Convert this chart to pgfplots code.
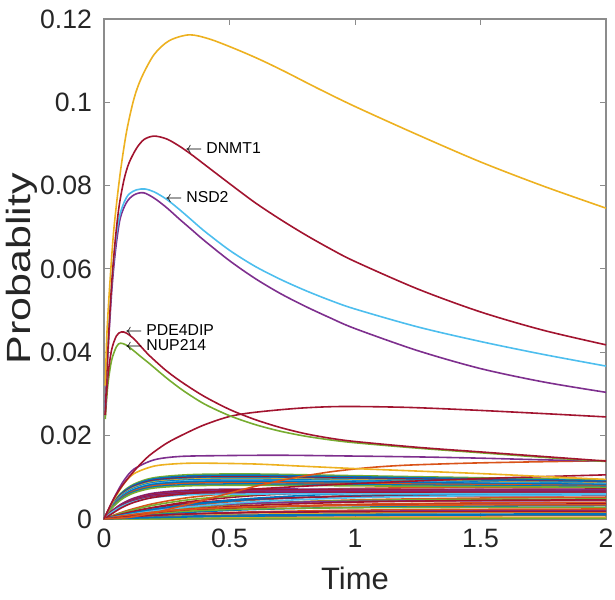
\documentclass[border=0pt]{standalone}
\usepackage{fontspec}
\setmainfont{Liberation Sans}
\usepackage{pgfplots}
\pgfplotsset{compat=1.18}
\usepackage{pgfplotstable}

\definecolor{mblue}{RGB}{0,114,189}
\definecolor{morange}{RGB}{217,83,25}
\definecolor{myellow}{RGB}{237,177,32}
\definecolor{mpurple}{RGB}{126,47,142}
\definecolor{mgreen}{RGB}{119,172,48}
\definecolor{mcyan}{RGB}{77,190,238}
\definecolor{mred}{RGB}{162,20,47}
\definecolor{axgray}{RGB}{140,140,140}
\definecolor{txt}{RGB}{38,38,38}

% fast-rising curves that level off
\pgfplotstableread{
t    F1      F2      F3      F4      F5      F6      F7      F8      F9      F10     F11     F12     F13     F14     F15     F16     F17     F18     F19     F20
0    0       0       0       0       0       0       0       0       0       0       0       0       0       0       0       0       0       0       0       0
0.03 0.00338 0.00329 0.00322 0.00316 0.00310 0.00304 0.00297 0.00291 0.00285 0.00279 0.00272 0.00263 0.00254 0.00186 0.00181 0.00176 0.00171 0.00166 0.00161 0.00155
0.07 0.00630 0.00612 0.00600 0.00589 0.00577 0.00566 0.00554 0.00542 0.00531 0.00519 0.00507 0.00490 0.00472 0.00362 0.00352 0.00342 0.00332 0.00322 0.00312 0.00302
0.12 0.00839 0.00816 0.00800 0.00785 0.00769 0.00754 0.00738 0.00723 0.00707 0.00692 0.00676 0.00653 0.00629 0.00503 0.00489 0.00475 0.00461 0.00447 0.00433 0.00419
0.2  0.00991 0.00964 0.00946 0.00927 0.00909 0.00890 0.00872 0.00854 0.00835 0.00817 0.00799 0.00771 0.00744 0.00623 0.00606 0.00588 0.00571 0.00554 0.00536 0.00519
0.35 0.01066 0.01036 0.01017 0.00997 0.00977 0.00957 0.00938 0.00918 0.00898 0.00878 0.00859 0.00829 0.00799 0.00698 0.00679 0.00660 0.00640 0.00621 0.00601 0.00582
0.6  0.01080 0.01050 0.01030 0.01010 0.00990 0.00970 0.00950 0.00930 0.00910 0.00890 0.00870 0.00840 0.00810 0.00720 0.00700 0.00680 0.00660 0.00640 0.00620 0.00600
1.0  0.01040 0.01013 0.00993 0.00976 0.00959 0.00939 0.00921 0.00904 0.00887 0.00870 0.00850 0.00823 0.00796 0.00714 0.00694 0.00677 0.00660 0.00640 0.00623 0.00603
1.5  0.00990 0.00966 0.00946 0.00933 0.00919 0.00899 0.00886 0.00872 0.00859 0.00845 0.00825 0.00801 0.00778 0.00707 0.00687 0.00674 0.00660 0.00640 0.00626 0.00606
2.0  0.00940 0.00920 0.00900 0.00890 0.00880 0.00860 0.00850 0.00840 0.00830 0.00820 0.00800 0.00780 0.00760 0.00700 0.00680 0.00670 0.00660 0.00640 0.00630 0.00610
}\fasttab

% slowly rising curves
\pgfplotstableread{
t    S1      S2      S3      S4      S5      S6      S7      S8      S9      S10     S11     S12     S13     S14     S15     S16     S17     S18     S19     S20     S21     S22     S23     S24     S25     S26
0    0       0       0       0       0       0       0       0       0       0       0       0       0       0       0       0       0       0       0       0       0       0       0       0       0       0
0.03 0.00072 0.00053 0.00065 0.00038 0.00044 0.00053 0.00031 0.00035 0.00042 0.00024 0.00026 0.00019 0.00027 0.00014 0.00015 0.00009 0.00009 0.00008 0.00002 0.00001 0.00041 0.00034 0.00027 0.00032 0.00017 0.00006
0.07 0.00160 0.00116 0.00143 0.00085 0.00097 0.00118 0.00069 0.00077 0.00092 0.00053 0.00058 0.00043 0.00059 0.00032 0.00032 0.00021 0.00019 0.00017 0.00005 0.00002 0.00093 0.00077 0.00061 0.00071 0.00038 0.00013
0.12 0.00251 0.00189 0.00224 0.00139 0.00157 0.00185 0.00113 0.00126 0.00145 0.00087 0.00094 0.00069 0.00092 0.00052 0.00052 0.00035 0.00031 0.00026 0.00009 0.00003 0.00152 0.00126 0.00100 0.00112 0.00059 0.00022
0.2  0.00372 0.00283 0.00333 0.00215 0.00236 0.00274 0.00175 0.00189 0.00216 0.00134 0.00141 0.00108 0.00137 0.00081 0.00079 0.00054 0.00047 0.00039 0.00013 0.00005 0.00235 0.00195 0.00155 0.00167 0.00088 0.00034
0.35 0.00524 0.00423 0.00469 0.00328 0.00352 0.00386 0.00266 0.00282 0.00304 0.00205 0.00211 0.00164 0.00193 0.00123 0.00117 0.00082 0.00070 0.00055 0.00020 0.00008 0.00358 0.00297 0.00236 0.00235 0.00124 0.00051
0.6  0.00657 0.00562 0.00588 0.00456 0.00469 0.00484 0.00370 0.00375 0.00381 0.00285 0.00281 0.00228 0.00242 0.00171 0.00156 0.00114 0.00094 0.00069 0.00028 0.00011 0.00498 0.00413 0.00328 0.00294 0.00156 0.00071
1.0  0.00733 0.00665 0.00656 0.00564 0.00554 0.00540 0.00458 0.00443 0.00424 0.00352 0.00332 0.00282 0.00270 0.00211 0.00185 0.00141 0.00111 0.00077 0.00035 0.00013 0.00617 0.00511 0.00405 0.00328 0.00174 0.00088
1.5  0.00755 0.00708 0.00675 0.00619 0.00590 0.00556 0.00503 0.00472 0.00437 0.00387 0.00354 0.00309 0.00278 0.00232 0.00197 0.00155 0.00118 0.00079 0.00039 0.00015 0.00677 0.00561 0.00445 0.00338 0.00179 0.00097
2.0  0.00760 0.00720 0.00680 0.00640 0.00600 0.00560 0.00520 0.00480 0.00440 0.00400 0.00360 0.00320 0.00280 0.00240 0.00200 0.00160 0.00120 0.00080 0.00040 0.00015 0.00700 0.00580 0.00460 0.00340 0.00180 0.00100
}\slowtab

\begin{document}
\begin{tikzpicture}
\useasboundingbox (-52pt,-40pt) rectangle (255.5pt,259.5pt);
\begin{axis}[
  at={(0,0)}, anchor=south west,
  scale only axis, width=251pt, height=250pt,
  xmin=0, xmax=2, ymin=0, ymax=0.12,
  xtick={0,0.5,1,1.5,2}, xticklabels={0,0.5,1,1.5,2},
  ytick={0,0.02,0.04,0.06,0.08,0.1,0.12},
  yticklabels={0,0.02,0.04,0.06,0.08,0.1,0.12},
  /pgf/number format/assume math mode=true,
  tick align=inside, major tick length=3pt,
  axis line style={draw=axgray, line width=0.6pt},
  tick style={draw=axgray, line width=0.5pt},
  every tick label/.append style={font=\fontsize{13.3}{16}\selectfont, text=txt},
  yticklabel style={xshift=-2.5pt},
  xticklabel style={yshift=-1.5pt},
  xlabel={Time}, ylabel={Probablity},
  every axis x label/.style={at={(axis description cs:0.5,-0.118)}, anchor=center, font=\fontsize{15.5}{18}\selectfont, text=txt},
  every axis y label/.style={at={(axis description cs:-0.163,0.5)}, rotate=90, yscale=0.78, anchor=center, font=\fontsize{21.5}{24}\selectfont, text=txt},
  no markers,
  every axis plot/.append style={line width=0.8pt, smooth},
  clip=true,
]
% slow curves
\addplot[morange] table[y=S1]{\slowtab};
\addplot[mred] table[y=S2]{\slowtab};
\addplot[mgreen] table[y=S3]{\slowtab};
\addplot[morange] table[y=S4]{\slowtab};
\addplot[mblue] table[y=S5]{\slowtab};
\addplot[mred] table[y=S6]{\slowtab};
\addplot[morange] table[y=S7]{\slowtab};
\addplot[mgreen] table[y=S8]{\slowtab};
\addplot[mpurple] table[y=S9]{\slowtab};
\addplot[morange] table[y=S10]{\slowtab};
\addplot[mred] table[y=S11]{\slowtab};
\addplot[mblue] table[y=S12]{\slowtab};
\addplot[mgreen] table[y=S13]{\slowtab};
\addplot[morange] table[y=S14]{\slowtab};
\addplot[mpurple] table[y=S15]{\slowtab};
\addplot[myellow] table[y=S16]{\slowtab};
\addplot[mblue] table[y=S17]{\slowtab};
\addplot[morange] table[y=S18]{\slowtab};
\addplot[myellow] table[y=S19]{\slowtab};
\addplot[mgreen] table[y=S20]{\slowtab};
\addplot[mblue] table[y=S21]{\slowtab};
\addplot[mcyan] table[y=S22]{\slowtab};
\addplot[mred] table[y=S23]{\slowtab};
\addplot[morange] table[y=S24]{\slowtab};
\addplot[mred] table[y=S25]{\slowtab};
\addplot[mblue] table[y=S26]{\slowtab};
% fast curves
\addplot[mgreen] table[y=F1]{\fasttab};
\addplot[mblue] table[y=F2]{\fasttab};
\addplot[mblue] table[y=F3]{\fasttab};
\addplot[mred] table[y=F4]{\fasttab};
\addplot[mblue] table[y=F5]{\fasttab};
\addplot[myellow] table[y=F6]{\fasttab};
\addplot[mblue] table[y=F7]{\fasttab};
\addplot[mcyan] table[y=F8]{\fasttab};
\addplot[mblue] table[y=F9]{\fasttab};
\addplot[mblue] table[y=F10]{\fasttab};
\addplot[morange] table[y=F11]{\fasttab};
\addplot[mblue] table[y=F12]{\fasttab};
\addplot[mgreen] table[y=F13]{\fasttab};
\addplot[mpurple] table[y=F14]{\fasttab};
\addplot[mred] table[y=F15]{\fasttab};
\addplot[mpurple] table[y=F16]{\fasttab};
\addplot[mred] table[y=F17]{\fasttab};
\addplot[mpurple] table[y=F18]{\fasttab};
\addplot[mred] table[y=F19]{\fasttab};
\addplot[mcyan] table[y=F20]{\fasttab};
% individual mid-level curves
\addplot[mred] coordinates {(0,0) (0.03,0.0012) (0.07,0.0027) (0.12,0.0040) (0.2,0.0052) (0.35,0.0062) (0.6,0.0072) (1.0,0.0085) (1.5,0.0097) (2.0,0.0106)};
\addplot[morange] coordinates {(0,0) (0.1,0.0004) (0.2,0.0015) (0.3,0.0030) (0.4,0.0046) (0.5,0.0062) (0.6,0.0078) (0.75,0.0098) (0.9,0.0113) (1.05,0.0123) (1.2,0.0129) (1.45,0.0134) (1.7,0.0137) (2.0,0.0140)};
\addplot[myellow] coordinates {(0,0) (0.025,0.0030) (0.05,0.0057) (0.08,0.0085) (0.12,0.0109) (0.2,0.0127) (0.3,0.0133) (0.4,0.0134) (0.6,0.0132) (0.78,0.0127) (1.0,0.0121) (1.25,0.0115) (1.5,0.0109) (1.75,0.0102) (2.0,0.0095)};
\addplot[mpurple] coordinates {(0,0) (0.025,0.0032) (0.05,0.0062) (0.08,0.0093) (0.12,0.0120) (0.2,0.0142) (0.3,0.0150) (0.45,0.0152) (0.7,0.0153) (1.0,0.0151) (1.25,0.0149) (1.5,0.0146) (1.75,0.0142) (2.0,0.0139)};
\addplot[mred] coordinates {(0,0) (0.04,0.0050) (0.08,0.0086) (0.13,0.0122) (0.18,0.0152) (0.25,0.0182) (0.32,0.0204) (0.4,0.0226) (0.5,0.0246) (0.6,0.0256) (0.78,0.0266) (0.95,0.0270) (1.2,0.0268) (1.45,0.0262) (1.75,0.0253) (2.0,0.0245)};
% NUP214
\addplot[mgreen] coordinates {(0.005,0.024) (0.015,0.032) (0.03,0.0380) (0.05,0.0414) (0.066,0.0422) (0.09,0.0417) (0.12,0.0403) (0.15,0.0388) (0.183,0.0372) (0.25,0.0338) (0.316,0.0308) (0.4,0.0276) (0.5,0.0248) (0.6,0.0227) (0.7,0.0211) (0.8,0.0199) (0.9,0.0190) (1.0,0.0183) (1.25,0.0170) (1.5,0.0159) (1.75,0.0148) (2.0,0.0138)};
% PDE4DIP
\addplot[mred] coordinates {(0.005,0.025) (0.015,0.034) (0.03,0.0405) (0.05,0.0440) (0.07,0.0449) (0.09,0.0446) (0.12,0.0432) (0.15,0.0412) (0.183,0.0391) (0.25,0.0355) (0.316,0.0326) (0.4,0.0294) (0.5,0.0263) (0.6,0.0239) (0.7,0.0220) (0.8,0.0205) (0.9,0.0194) (1.0,0.0186) (1.25,0.0172) (1.5,0.0161) (1.75,0.0150) (2.0,0.0139)};
% purple
\addplot[mpurple] coordinates {(0.005,0.027) (0.015,0.039) (0.03,0.054) (0.045,0.064) (0.064,0.0720) (0.09,0.0760) (0.12,0.0778) (0.157,0.0783) (0.2,0.0770) (0.25,0.0747) (0.3,0.0720) (0.35,0.0694) (0.4,0.0668) (0.5,0.0620) (0.6,0.0578) (0.7,0.0542) (0.8,0.0511) (0.9,0.0483) (1.0,0.0457) (1.25,0.0404) (1.5,0.0361) (1.75,0.0329) (2.0,0.0304)};
% NSD2
\addplot[mcyan] coordinates {(0.005,0.026) (0.015,0.041) (0.03,0.056) (0.045,0.066) (0.06,0.0722) (0.08,0.0760) (0.1,0.0780) (0.13,0.0790) (0.163,0.0792) (0.2,0.0785) (0.25,0.0767) (0.3,0.0743) (0.35,0.0717) (0.4,0.0691) (0.5,0.0645) (0.6,0.0607) (0.7,0.0576) (0.8,0.0549) (0.9,0.0525) (1.0,0.0504) (1.25,0.0461) (1.5,0.0426) (1.75,0.0395) (2.0,0.0367)};
% DNMT1
\addplot[mred] coordinates {(0.005,0.025) (0.015,0.040) (0.03,0.056) (0.045,0.067) (0.06,0.0750) (0.08,0.0815) (0.1,0.0855) (0.13,0.0890) (0.16,0.0911) (0.2,0.0919) (0.25,0.0912) (0.3,0.0895) (0.35,0.0874) (0.4,0.0851) (0.5,0.0805) (0.6,0.0760) (0.7,0.0720) (0.8,0.0683) (0.9,0.0649) (1.0,0.0618) (1.25,0.0552) (1.5,0.0497) (1.75,0.0453) (2.0,0.0418)};
% top yellow
\addplot[myellow] coordinates {(0.005,0.032) (0.012,0.045) (0.025,0.058) (0.04,0.070) (0.064,0.0827) (0.09,0.093) (0.12,0.101) (0.15,0.106) (0.2,0.1115) (0.26,0.1148) (0.34,0.1162) (0.42,0.1152) (0.52,0.1129) (0.62,0.1103) (0.72,0.1074) (0.85,0.1034) (1.0,0.0990) (1.25,0.0922) (1.5,0.0857) (1.75,0.0799) (2.0,0.0746)};

\begin{scope}[every node/.style={anchor=west, inner sep=0pt, text height=5.7pt, text depth=0pt, font=\fontsize{7.9}{9}\selectfont, text=black}]
\node at (axis cs:0.3227,0.0890) {$\leftarrow$\hspace{2pt}DNMT1};
\node at (axis cs:0.243,0.0773) {$\leftarrow$\hspace{2pt}NSD2};
\node at (axis cs:0.0837,0.0455) {$\leftarrow$\hspace{2pt}PDE4DIP};
\node at (axis cs:0.0837,0.0417) {$\leftarrow$\hspace{2pt}NUP214};
\end{scope}
\end{axis}
\end{tikzpicture}
\end{document}
